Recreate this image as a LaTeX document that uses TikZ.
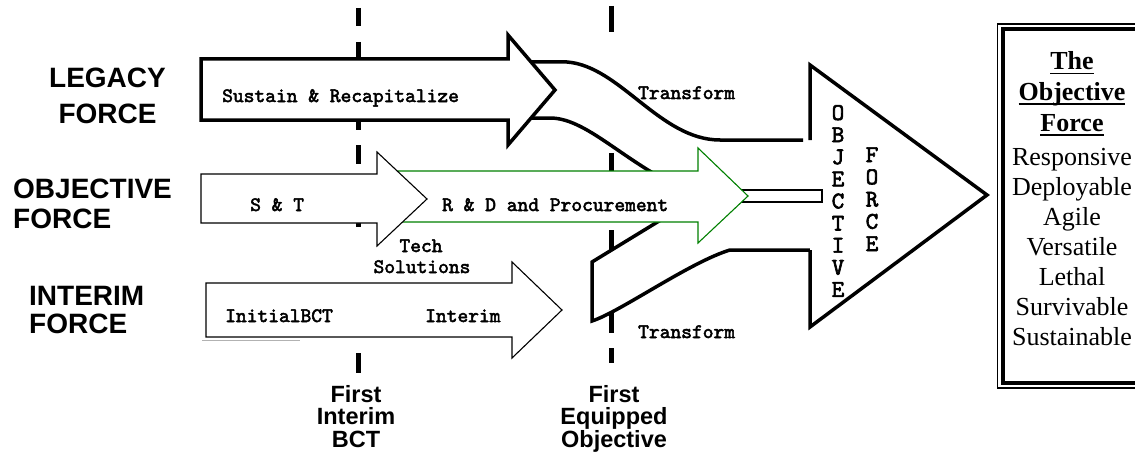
\documentclass[tikz,border=0pt]{standalone}
\usepackage{fontspec}
\setmainfont{Liberation Serif}
\newfontfamily\headfam{Liberation Sans}
\newfontfamily\typefam{lmmono10-regular.otf}[FakeBold=2.5]
\definecolor{rdgreen}{RGB}{0,128,0}
% underline drawn as a rule below the baseline
\newcommand\ulbox[1]{\setbox0\hbox{#1}\rlap{\rule[-4.5pt]{\wd0}{1.8pt}}\box0}
\begin{document}
\begin{tikzpicture}[x=1pt,y=-1pt,
  heavy/.style={line width=3.5pt, line join=miter},
  light/.style={line width=1.1pt, line join=miter},
  milestone/.style={line width=5pt},
  flowtext/.style={inner sep=0pt, font={\typefam\fontsize{20.5}{20.5}\selectfont}},
  vletter/.style={inner sep=0pt, font={\typefam\fontsize{24}{24}\selectfont}},
  forcelbl/.style={inner sep=0pt, font={\headfam\bfseries\fontsize{28}{28}\selectfont}},
  mslbl/.style={inner sep=0pt, font={\headfam\bfseries\fontsize{23.5}{23.5}\selectfont}},
  boxhead/.style={inner sep=0pt, font={\bfseries\fontsize{26}{30}\selectfont}},
  boxtext/.style={inner sep=0pt, font={\fontsize{26}{30}\selectfont}}]
\useasboundingbox (0,0) rectangle (1135,452);
\clip (0,0) rectangle (1135,452);

% milestone dashed lines
\foreach \a/\b in {8/26,42/60,112/130,145/164,208/227,353/373}
  \draw[milestone] (358,\a) -- (358,\b);
\foreach \a/\b in {6/32,153/177,230/254,309/333,348/363}
  \draw[milestone] (611,\a) -- (611,\b);

% legacy transform band
\fill[white] (530,62) -- (567,62) .. controls (620,66) and (660,140) .. (720,140)
  -- (810,140) -- (810,196) -- (700,196) .. controls (630,170) and (590,118) .. (550,118)
  -- (530,118) -- cycle;
\draw[heavy] (525,62) -- (567,62) .. controls (620,66) and (660,140) .. (720,140) -- (803,140);
\draw[heavy] (525,118) -- (550,118) .. controls (590,118) and (630,170) .. (700,196);

% interim transform band
\fill[white] (700,196) -- (592,262) -- (592,321) .. controls (620,312) and (690,262) .. (730,250)
  -- (810,250) -- (810,196) -- cycle;
\draw[heavy] (700,196) -- (592,262) -- (592,321) .. controls (620,312) and (690,262) .. (730,250) -- (810,250);

% legacy force arrow
\draw[heavy, fill=white] (201,59) -- (508,59) -- (508,35) -- (555,90) -- (508,145)
  -- (508,120) -- (201,120) -- cycle;

% objective force arrow
\fill[white] (810,65) -- (987,195) -- (810,327) -- cycle;
\draw[heavy] (810,140) -- (810,65) -- (987,195) -- (810,327) -- (810,250);

% pipe into the objective force
\draw[light, fill=white] (730,190) rectangle (822,202);

% R&D and procurement arrow (its tail runs under the S&T head)
\draw[light, draw=rdgreen, fill=white] (398,171) -- (698,171) -- (698,148) -- (748,196)
  -- (698,243) -- (698,222) -- (398,222) -- cycle;

% S&T arrow
\draw[light, fill=white] (201,174) -- (377,174) -- (377,152) -- (427,199) -- (377,246)
  -- (377,223) -- (201,223) -- cycle;

% interim arrow
\draw[light, fill=white] (206,283) -- (512,283) -- (512,262) -- (562,310) -- (512,358)
  -- (512,337) -- (206,337) -- cycle;
\draw[line width=1pt, gray!60] (202,340) -- (300,340);

% arrow texts
\node[flowtext, anchor=base west] (sustain) at (222,102) {Sustain \& Recapitalize};
\node[flowtext, anchor=base west] (st) at (250,211) {S \& T};
\node[flowtext, anchor=base west] (rd) at (442,211) {R \& D and Procurement};
\node[flowtext, anchor=base] (tech1) at (421,252) {Tech};
\node[flowtext, anchor=base] (tech2) at (422,273) {Solutions};
\node[flowtext, anchor=base west] (initbct) at (225,322) {InitialBCT};
\node[flowtext, anchor=base west] (interim) at (425,322) {Interim};
\node[flowtext, anchor=base west] (tfup) at (638,99) {Transform};
\node[flowtext, anchor=base west] (tflow) at (638,338) {Transform};

% vertical lettering in the objective force arrow
\foreach \l [count=\i from 0] in {O,B,J,E,C,T,I,V,E}
  \node[vletter, anchor=base] (ov\i) at (838,120+22.1*\i) {\l};
\foreach \l [count=\i from 0] in {F,O,R,C,E}
  \node[vletter, anchor=base] (of\i) at (872,162+22.25*\i) {\l};

% force labels
\node[forcelbl, anchor=base] (leg1) at (107.5,88) {LEGACY};
\node[forcelbl, anchor=base] (leg2) at (107.5,123) {FORCE};
\node[forcelbl, anchor=base west] (obj1) at (13,198) {OBJECTIVE};
\node[forcelbl, anchor=base west] (obj2) at (13,228) {FORCE};
\node[forcelbl, anchor=base west] (int1) at (29,305) {INTERIM};
\node[forcelbl, anchor=base west] (int2) at (29,333) {FORCE};

% milestone labels
\node[mslbl, anchor=base] (m1a) at (356,402) {First};
\node[mslbl, anchor=base] (m1b) at (356,424.5) {Interim};
\node[mslbl, anchor=base] (m1c) at (356,447.5) {BCT};
\node[mslbl, anchor=base] (m2a) at (614,402) {First};
\node[mslbl, anchor=base] (m2b) at (614,424.5) {Equipped};
\node[mslbl, anchor=base] (m2c) at (614,447.5) {Objective};

% characteristics box
\draw[line width=1.2pt] (997.5,24) rectangle (1150,388);
\draw[line width=4pt] (1003,29) rectangle (1145,383);
\foreach \w [count=\i from 0] in {The,Objective,Force}
  \node[boxhead, anchor=base] (head\i) at (1072,70+30.5*\i) {\ulbox{\w}};
\foreach \w [count=\i from 0] in {Responsive,Deployable,Agile,Versatile,Lethal,Survivable,Sustainable}
  \node[boxtext, anchor=base] (trait\i) at (1072,165+30*\i) {\w};
\end{tikzpicture}
\end{document}
